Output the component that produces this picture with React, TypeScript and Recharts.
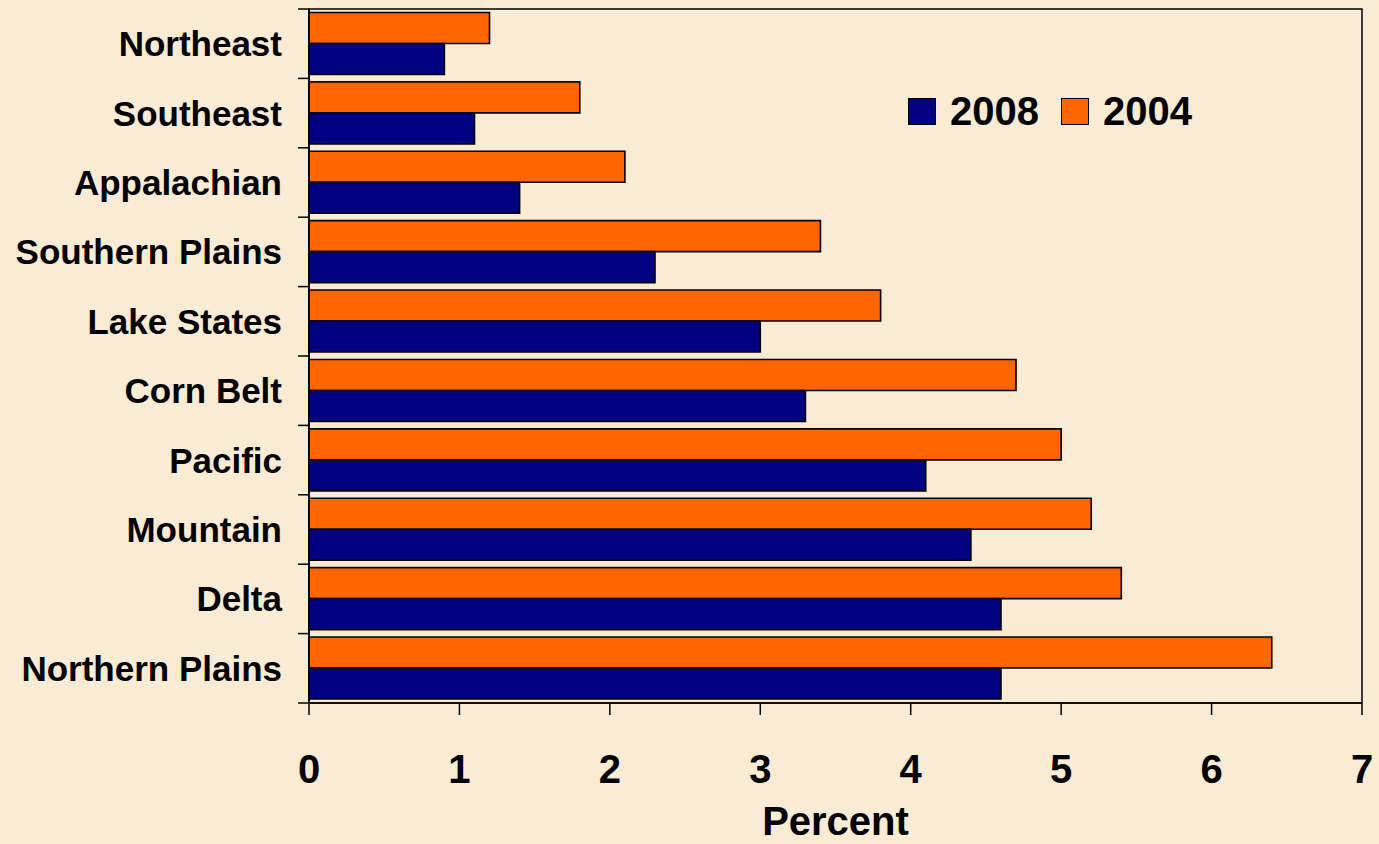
import React from 'react';
import { BarChart, Bar, XAxis, YAxis, Legend, ReferenceArea } from 'recharts';

const categories = ['Northeast', 'Southeast', 'Appalachian', 'Southern Plains', 'Lake States', 'Corn Belt', 'Pacific', 'Mountain', 'Delta', 'Northern Plains'];
const values2008 = [0.9, 1.1, 1.4, 2.3, 3.0, 3.3, 4.1, 4.4, 4.6, 4.6];
const values2004 = [1.2, 1.8, 2.1, 3.4, 3.8, 4.7, 5.0, 5.2, 5.4, 6.4];
const xTicks = [0, 1, 2, 3, 4, 5, 6, 7];
const seriesNames = ['2008', '2004'];

const NAVY = '#000080';
const ORANGE = '#FF6600';
const BG = '#F9EBD4';
const FONT = '"Liberation Sans", Arial, Helvetica, sans-serif';

const W = 1379;
const H = 844;
const MARGIN = { top: 9, right: 17, bottom: 0, left: 0 };
const X_AXIS_H = 141;
const Y_AXIS_W = 309;
const PLOT_H = H - MARGIN.top - MARGIN.bottom - X_AXIS_H;
const HALF_BAND = PLOT_H / categories.length / 2;
const Y_TICK_SIZE = 11;
const Y_TICK_MARGIN = 16;

const data = categories.map((name, i) => ({ name, v2008: values2008[i], v2004: values2004[i] }));

const YTick = (props: any) => {
  const { x, y, payload, index } = props;
  const axisX = x + Y_TICK_MARGIN + Y_TICK_SIZE;
  const isLast = index === categories.length - 1;
  return (
    <g>
      <line x1={axisX - Y_TICK_SIZE} x2={axisX} y1={y - HALF_BAND} y2={y - HALF_BAND} stroke="#000" strokeWidth={1.5} />
      {isLast && (
        <line x1={axisX - Y_TICK_SIZE} x2={axisX} y1={y + HALF_BAND} y2={y + HALF_BAND} stroke="#000" strokeWidth={1.5} />
      )}
      <text x={x} y={y} textAnchor="end" dominantBaseline="central" fill="#000" fontSize={35} fontWeight="bold" fontFamily={FONT}>
        {payload.value}
      </text>
    </g>
  );
};

const LegendContent = () => {
  const colors: Record<string, string> = { '2008': NAVY, '2004': ORANGE };
  return (
    <div style={{ display: 'flex', alignItems: 'center', fontFamily: FONT, fontWeight: 'bold', fontSize: 40, color: '#000', lineHeight: '46px' }}>
      {seriesNames.map((n, i) => (
        <div key={n} style={{ display: 'flex', alignItems: 'center', marginRight: i === 0 ? 22 : 0 }}>
          <span style={{ display: 'inline-block', width: 26, height: 25, background: colors[n], border: '1.5px solid #000', marginRight: 14 }} />
          <span>{n}</span>
        </div>
      ))}
    </div>
  );
};

export default function App() {
  return (
    <div style={{ position: 'absolute', left: 0, top: 0, width: W, height: H, background: BG, fontFamily: FONT }}>
      <BarChart
        width={W}
        height={H}
        data={data}
        layout="vertical"
        margin={MARGIN}
        barCategoryGap="5%"
        barGap={0}
        style={{ fontFamily: FONT }}
      >
        <XAxis
          type="number"
          domain={[0, 7]}
          ticks={xTicks}
          interval={0}
          height={X_AXIS_H}
          tickSize={12}
          tickMargin={40}
          axisLine={{ stroke: '#000', strokeWidth: 1.5 }}
          tickLine={{ stroke: '#000', strokeWidth: 1.5 }}
          tick={{ fill: '#000', fontSize: 40, fontWeight: 'bold', fontFamily: FONT }}
          label={{ value: 'Percent', position: 'insideBottom', offset: 9, fill: '#000', fontSize: 40, fontWeight: 'bold', fontFamily: FONT }}
        />
        <YAxis
          type="category"
          dataKey="name"
          width={Y_AXIS_W}
          interval={0}
          tickSize={Y_TICK_SIZE}
          tickMargin={Y_TICK_MARGIN}
          tickLine={false}
          axisLine={{ stroke: '#000', strokeWidth: 1.5 }}
          tick={<YTick />}
        />
        <Legend
          layout="vertical"
          align="center"
          verticalAlign="middle"
          wrapperStyle={{ left: 908, top: 88, width: 320, height: 46 }}
          content={<LegendContent />}
        />
        <Bar dataKey="v2004" name="2004" fill={ORANGE} stroke="#000" strokeWidth={1.6} isAnimationActive={false} />
        <Bar dataKey="v2008" name="2008" fill={NAVY} stroke="#000" strokeWidth={1.6} isAnimationActive={false} />
        <ReferenceArea x1={0} x2={7} fill="none" stroke="#000" strokeWidth={1.5} ifOverflow="visible" />
      </BarChart>
    </div>
  );
}
